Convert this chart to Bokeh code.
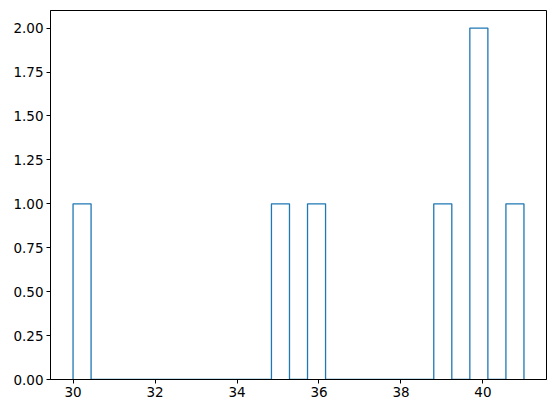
import numpy as np
from bokeh.plotting import figure
from bokeh.models import FixedTicker, NumeralTickFormatter, Range1d
from bokeh.embed import file_html
from bokeh.resources import INLINE

# raw values and number of bins of the histogram
values = [30, 35, 36, 39, 40, 40, 41]
n_bins = 25
x_ticks = [30, 32, 34, 36, 38, 40]
y_ticks = [0, 0.25, 0.5, 0.75, 1.0, 1.25, 1.5, 1.75, 2.0]

counts, edges = np.histogram(values, bins=n_bins)

# step outline, like histtype="step"
xs = [edges[0]]
ys = [0]
for i, c in enumerate(counts):
	xs += [edges[i], edges[i + 1]]
	ys += [c, c]
xs.append(edges[-1])
ys.append(0)

span = edges[-1] - edges[0]
p = figure(frame_width=496, frame_height=369, output_backend="svg", toolbar_location=None,
	x_range=Range1d(edges[0] - 0.05 * span, edges[-1] + 0.05 * span),
	y_range=Range1d(0, counts.max() * 1.05),
	min_border_left=50, min_border_top=10, min_border_right=2, min_border_bottom=26)

p.line(xs, ys, line_color="#1f77b4", line_width=1.3)

p.xgrid.visible = False
p.ygrid.visible = False
p.outline_line_color = "black"
p.outline_line_width = 1
p.background_fill_color = "white"
p.border_fill_color = "white"

p.xaxis.ticker = FixedTicker(ticks=x_ticks)
p.yaxis.ticker = FixedTicker(ticks=y_ticks)
p.yaxis.formatter = NumeralTickFormatter(format="0.00")
for ax in (p.xaxis, p.yaxis):
	ax.axis_line_color = "black"
	ax.major_tick_line_color = "black"
	ax.major_tick_out = 4
	ax.major_tick_in = 0
	ax.minor_tick_out = 0
	ax.minor_tick_in = 0
	ax.major_label_standoff = 3
	ax.major_label_text_font = "DejaVu Sans"
	ax.major_label_text_font_size = "13.5px"
	ax.major_label_text_color = "black"

open("out.html", "w").write(file_html(p, INLINE))
